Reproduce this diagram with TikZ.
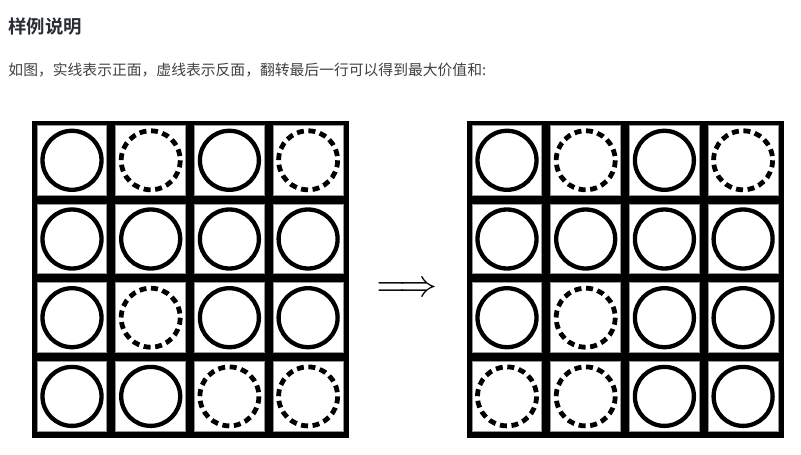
\documentclass[tikz,border=0pt]{standalone}
\usepackage{fontspec}
\usepackage{tikz}
\newfontfamily\cjk{Noto Sans CJK SC}[BoldFont={Noto Sans CJK SC Bold}]
\definecolor{titletext}{RGB}{40, 44, 52}
\definecolor{bodytext}{RGB}{64, 64, 64}
\definecolor{cellline}{RGB}{150, 150, 150}
\usetikzlibrary{positioning, calc}

\begin{document}
\begin{tikzpicture}[
    x=1pt, y=-1pt,
    title/.style={anchor=west, inner sep=0pt, text=titletext, font=\cjk\bfseries\fontsize{18.4}{20}\selectfont},
    body/.style={anchor=west, inner sep=0pt, text=bodytext, font=\cjk\fontsize{14.8}{17}\selectfont},
    board/.style={fill=black},
    cell/.style={fill=white, draw=cellline, line width=0.6pt},
    coinf/.style={draw=black, line width=4.3pt},
    coinb/.style={draw=black, line width=4.8pt, dash pattern=on 7pt off 4.6pt},
    implies/.style={inner sep=0pt}
]
    \useasboundingbox (0,0) rectangle (801,455);

    % Texts
    \node[title] (heading) at (8.3,27) {样例说明};
    \node[body] (remark) at (8.3,70) {如图，实线表示正面，虚线表示反面，翻转最后一行可以得到最大价值和:};

    % Boards
    \draw[board] (32.3,120.7) rectangle (348.3,437.3);
    \draw[board] (467.3,120.7) rectangle (783.3,437.3);
    \foreach \ox in {0,435}
        \foreach \i in {0,...,3}
            \foreach \j in {0,...,3}
                \draw[cell] ({37+\ox+78.7*\i},{125.3+78.7*\j}) rectangle +(69.7,69.7);

    % Coins: f = front (solid), b = back (dashed)
    \foreach \row [count=\j from 0] in {{f,b,f,b},{f,f,f,f},{f,b,f,f},{f,f,b,b}}
        \foreach \side [count=\i from 0] in \row
            \draw[coin\side] ({72+78.7*\i},{160.3+78.7*\j}) circle (29.5);
    \foreach \row [count=\j from 0] in {{f,b,f,b},{f,f,f,f},{f,b,f,f},{b,b,f,f}}
        \foreach \side [count=\i from 0] in \row
            \draw[coin\side] ({507+78.7*\i},{160.3+78.7*\j}) circle (29.5);

    % Arrow
    \node[implies] (flip) at (407,289.5) {\scalebox{3.8}{$\Longrightarrow$}};
\end{tikzpicture}
\end{document}
